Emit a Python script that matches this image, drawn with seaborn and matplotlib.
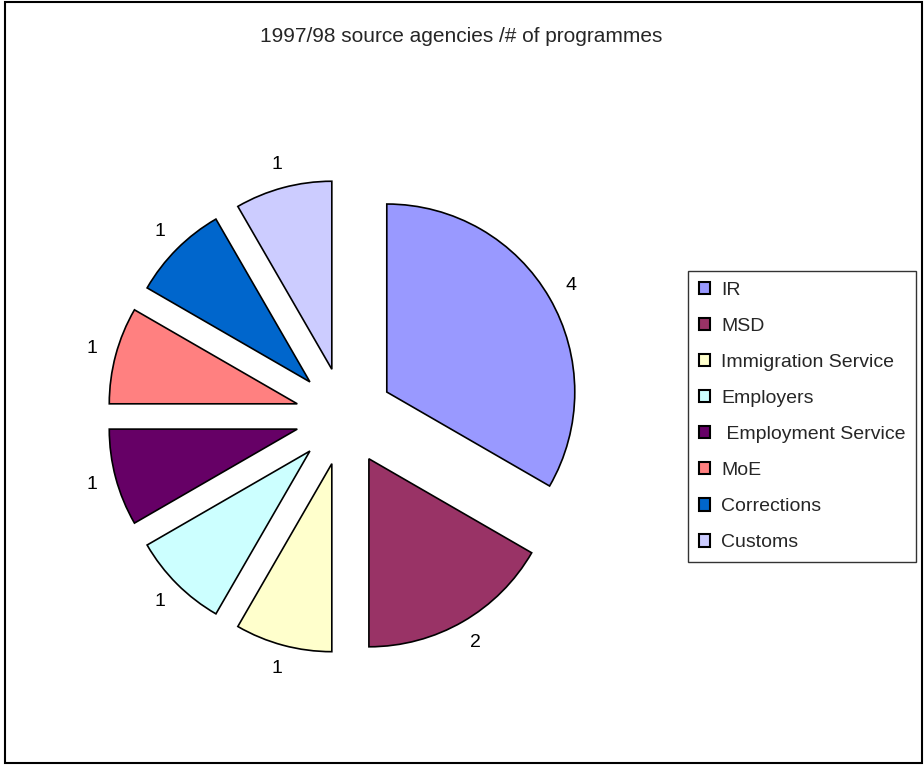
import matplotlib
matplotlib.use("Agg")
import matplotlib.pyplot as plt
import seaborn as sns
from matplotlib.patches import Rectangle

# data
agencies = ["IR", "MSD", "Immigration Service", "Employers", " Employment Service",
            "MoE", "Corrections", "Customs"]
programmes = [4, 2, 1, 1, 1, 1, 1, 1]
colours = ["#9999FF", "#993366", "#FFFFCC", "#CCFFFF", "#660066",
           "#FF8080", "#0066CC", "#CCCCFF"]
title = "1997/98 source agencies /# of programmes"

sns.set_theme(style="white")
plt.rcParams["font.family"] = ["Liberation Sans", "DejaVu Sans"]

fig = plt.figure(figsize=(9.24, 7.65), dpi=100)
# square axes: 1 data unit = 188 px, pie centred near (344, 416) px
ax = fig.add_axes([0.0473, 0.0624, 0.651, 0.7864])

wedges, texts = ax.pie(
    programmes,
    labels=[str(v) for v in programmes],
    colors=colours,
    explode=[0.26] * len(programmes),
    startangle=90,
    counterclock=False,
    labeldistance=1.13,
    wedgeprops=dict(edgecolor="black", linewidth=1.2),
    textprops=dict(fontsize=14, color="black"),
)
for t in texts:
    t.set_ha("center")
    t.set_va("center")
    t.set_fontsize(14)
ax.set_xlim(-1.6, 1.6)
ax.set_ylim(-1.6, 1.6)
ax.set_aspect("auto")

fig.text(0.4989, 1 - 37 / 765, title, ha="center", va="center", fontsize=15)

leg = fig.legend(
    wedges, agencies,
    loc="upper left",
    bbox_to_anchor=(688 / 924, 1 - 271 / 765),
    frameon=True, fancybox=False, shadow=False,
    fontsize=14, handlelength=0.6, handleheight=0.6, handletextpad=0.55,
    labelspacing=0.98, borderpad=0.55, borderaxespad=0,
)
leg.get_frame().set_edgecolor("black")
leg.get_frame().set_linewidth(1.0)
for h in leg.legend_handles:
    h.set_linewidth(1.5)

fig.patches.append(Rectangle((5 / 924, 2 / 765), 917 / 924, 761 / 765,
                             transform=fig.transFigure, fill=False,
                             edgecolor="black", linewidth=1.5))

fig.savefig("out.png", dpi=100)
